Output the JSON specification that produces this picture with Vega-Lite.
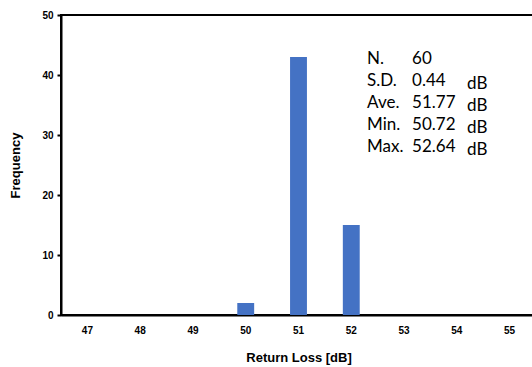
{
  "$schema": "https://vega.github.io/schema/vega-lite/v6.json",
  "width": 475,
  "height": 300,
  "autosize": {"type": "none"},
  "padding": {"left": 61, "top": 15, "right": 0, "bottom": 52},
  "background": "white",
  "config": {
    "view": {"stroke": "black", "strokeWidth": 2},
    "axis": {"labelFont": "Liberation Sans", "titleFont": "Liberation Sans", "labelColor": "black", "titleColor": "black", "domainColor": "black", "tickColor": "black", "grid": false}
  },
  "data": {"values": [
    {"bin": "47", "count": 0},
    {"bin": "48", "count": 0},
    {"bin": "49", "count": 0},
    {"bin": "50", "count": 2},
    {"bin": "51", "count": 43},
    {"bin": "52", "count": 15},
    {"bin": "53", "count": 0},
    {"bin": "54", "count": 0},
    {"bin": "55", "count": 0}
  ]},
  "layer": [
    {
      "mark": {"type": "bar", "color": "#4472C4"},
      "encoding": {
        "x": {"field": "bin", "type": "ordinal", "sort": null,
          "scale": {"paddingInner": 0.68, "paddingOuter": 0.34},
          "axis": {"title": "Return Loss [dB]", "labelAngle": 0, "ticks": false, "domainWidth": 2, "labelFontSize": 10, "labelFontWeight": "bold", "labelPadding": 10, "titleFontSize": 13, "titleFontWeight": "bold", "titlePadding": 16}},
        "y": {"field": "count", "type": "quantitative",
          "scale": {"domain": [0, 50]},
          "axis": {"title": "Frequency", "values": [0, 10, 20, 30, 40, 50], "tickSize": 4, "tickWidth": 2, "domainWidth": 2, "labelFontSize": 10, "labelFontWeight": "bold", "labelPadding": 4, "titleFontSize": 13, "titleFontWeight": "bold", "titlePadding": 19}}
      }
    },
    {
      "data": {"values": [{"labels": ["N.", "S.D.", "Ave.", "Min.", "Max."], "vals": ["60", "0.44", "51.77", "50.72", "52.64"], "units": [" ", "dB", "dB", "dB", "dB"]}]},
      "layer": [
        {
          "mark": {"type": "text", "align": "left", "baseline": "middle", "font": "Lato", "fontSize": 17, "lineHeight": 22, "dx": -37, "dy": 2},
          "encoding": {"x": {"datum": "53"}, "y": {"datum": 43}, "text": {"field": "labels"}}
        },
        {
          "mark": {"type": "text", "align": "left", "baseline": "middle", "font": "Lato", "fontSize": 17, "lineHeight": 22, "dx": 8, "dy": 2},
          "encoding": {"x": {"datum": "53"}, "y": {"datum": 43}, "text": {"field": "vals"}}
        },
        {
          "mark": {"type": "text", "align": "left", "baseline": "middle", "font": "Lato", "fontSize": 17, "lineHeight": 22, "dx": 63, "dy": 5},
          "encoding": {"x": {"datum": "53"}, "y": {"datum": 43}, "text": {"field": "units"}}
        }
      ]
    }
  ]
}
